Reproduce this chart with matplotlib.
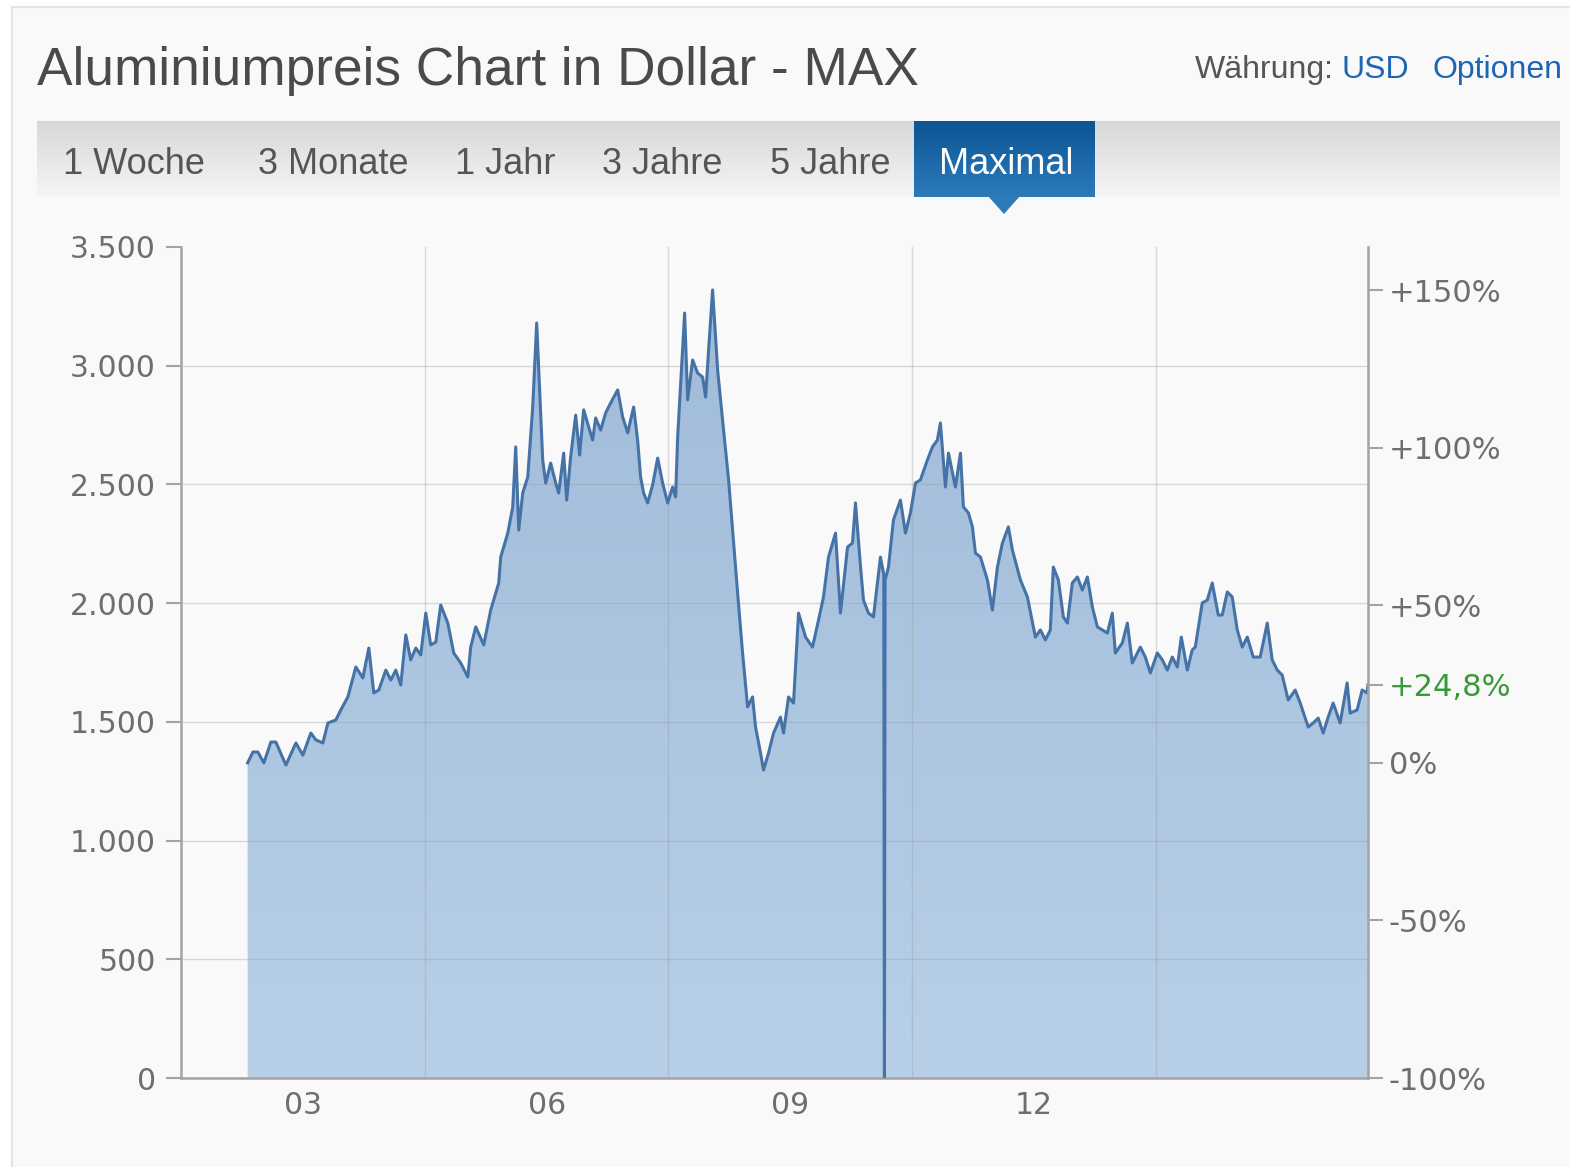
import numpy as np
import matplotlib.pyplot as plt
from matplotlib.colors import LinearSegmentedColormap
from matplotlib.patches import Rectangle, Polygon

# ── Config ─────────────────────────────────────────────────────────────────────
W, H        = 1570, 1167
LINE_COLOR  = '#4572a7'
TEXT_GRAY   = '#6e6e6e'
AXIS_GRAY   = '#a3a3a3'
LINK_BLUE   = '#1d65b5'
UP_GREEN    = '#3a9a3a'

TITLE    = 'Aluminiumpreis Chart in Dollar - MAX'
TABS     = ['1 Woche', '3 Monate', '1 Jahr', '3 Jahre', '5 Jahre', 'Maximal']
ACTIVE   = 'Maximal'

# ── Data (USD per tonne, decimal years) ────────────────────────────────────────
YEARS = [
    2002.820, 2002.885, 2002.946, 2003.020, 2003.106, 2003.168, 2003.291, 2003.414,
    2003.500, 2003.598, 2003.660, 2003.746, 2003.808, 2003.906, 2003.967, 2004.054,
    2004.152, 2004.238, 2004.312, 2004.373, 2004.435, 2004.521, 2004.582, 2004.644,
    2004.705, 2004.767, 2004.828, 2004.890, 2004.951, 2005.013, 2005.074, 2005.136,
    2005.197, 2005.284, 2005.357, 2005.443, 2005.530, 2005.566, 2005.628, 2005.726,
    2005.812, 2005.911, 2005.935, 2006.022, 2006.083, 2006.120, 2006.157, 2006.206,
    2006.268, 2006.329, 2006.378, 2006.452, 2006.489, 2006.550, 2006.612, 2006.649,
    2006.710, 2006.747, 2006.796, 2006.858, 2006.907, 2006.956, 2007.018, 2007.067,
    2007.104, 2007.165, 2007.227, 2007.288, 2007.375, 2007.436, 2007.498, 2007.571,
    2007.620, 2007.657, 2007.694, 2007.744, 2007.805, 2007.867, 2007.928, 2007.990,
    2008.051, 2008.088, 2008.113, 2008.150, 2008.199, 2008.236, 2008.297, 2008.359,
    2008.420, 2008.457, 2008.494, 2008.543, 2008.605, 2008.678, 2008.740, 2008.789,
    2008.851, 2008.912, 2008.974, 2009.035, 2009.072, 2009.133, 2009.170, 2009.232,
    2009.293, 2009.379, 2009.416, 2009.478, 2009.539, 2009.601, 2009.687, 2009.773,
    2009.847, 2009.908, 2009.970, 2010.056, 2010.117, 2010.204, 2010.265, 2010.302,
    2010.364, 2010.400, 2010.462, 2010.523, 2010.609, 2010.650, 2010.658, 2010.666,
    2010.708, 2010.769, 2010.855, 2010.917, 2010.978, 2011.040, 2011.101, 2011.187,
    2011.249, 2011.310, 2011.347, 2011.409, 2011.446, 2011.532, 2011.594, 2011.630,
    2011.692, 2011.741, 2011.778, 2011.840, 2011.926, 2011.987, 2012.049, 2012.110,
    2012.184, 2012.233, 2012.332, 2012.418, 2012.516, 2012.578, 2012.639, 2012.700,
    2012.737, 2012.799, 2012.860, 2012.910, 2012.971, 2013.033, 2013.094, 2013.156,
    2013.217, 2013.279, 2013.340, 2013.402, 2013.463, 2013.500, 2013.586, 2013.648,
    2013.709, 2013.808, 2013.869, 2013.931, 2014.017, 2014.078, 2014.140, 2014.201,
    2014.263, 2014.312, 2014.386, 2014.447, 2014.484, 2014.570, 2014.632, 2014.693,
    2014.767, 2014.816, 2014.878, 2014.939, 2015.001, 2015.062, 2015.124, 2015.197,
    2015.283, 2015.370, 2015.431, 2015.493, 2015.554, 2015.628, 2015.714, 2015.776,
    2015.874, 2015.935, 2015.997, 2016.058, 2016.120, 2016.181, 2016.267, 2016.353,
    2016.390, 2016.476, 2016.538, 2016.599, 2016.610,
]
PRICES = [
    1327, 1373, 1373, 1327, 1415, 1415, 1318, 1411,
    1360, 1453, 1424, 1411, 1495, 1508, 1550, 1605,
    1731, 1685, 1811, 1622, 1634, 1718, 1676, 1718,
    1655, 1866, 1761, 1811, 1782, 1958, 1824, 1836,
    1992, 1916, 1790, 1748, 1689, 1815, 1900, 1824,
    1971, 2085, 2194, 2295, 2405, 2658, 2308, 2464,
    2531, 2826, 3180, 2603, 2506, 2590, 2506, 2464,
    2632, 2434, 2616, 2792, 2624, 2814, 2742, 2687,
    2780, 2729, 2801, 2843, 2898, 2784, 2717, 2826,
    2687, 2531, 2464, 2422, 2498, 2611, 2506, 2422,
    2489, 2447, 2700, 2927, 3222, 2856, 3024, 2969,
    2952, 2868, 3066, 3319, 2982, 2729, 2519, 2308,
    2043, 1790, 1563, 1605, 1478, 1369, 1297, 1369,
    1453, 1520, 1453, 1605, 1579, 1958, 1857, 1815,
    1929, 2026, 2194, 2295, 1958, 2236, 2253, 2422,
    2152, 2013, 1958, 1942, 2194, 2120,    0, 2097,
    2152, 2350, 2434, 2295, 2380, 2506, 2519, 2603,
    2658, 2687, 2759, 2489, 2632, 2489, 2632, 2405,
    2380, 2321, 2211, 2194, 2097, 1971, 2152, 2253,
    2321, 2224, 2097, 2026, 1857, 1887, 1845, 1887,
    2152, 2097, 1942, 1916, 2085, 2110, 2055, 2110,
    1984, 1900, 1887, 1874, 1958, 1790, 1832, 1916,
    1748, 1815, 1773, 1706, 1790, 1761, 1718, 1773,
    1731, 1857, 1718, 1803, 1815, 2001, 2013, 2085,
    1950, 1950, 2047, 2026, 1887, 1815, 1857, 1773,
    1773, 1916, 1761, 1718, 1697, 1592, 1634, 1579,
    1478, 1495, 1516, 1453, 1520, 1579, 1495, 1664,
    1537, 1550, 1634, 1622, 1656,
]

Y_TICKS        = [0, 500, 1000, 1500, 2000, 2500, 3000, 3500]
PCT_TICKS      = [-100, -50, 0, 50, 100, 150]
YEAR_GRID      = [2005, 2008, 2011, 2014]
YEAR_LABEL_POS = [2003.5, 2006.5, 2009.5, 2012.5]
YEAR_LABELS    = ['03', '06', '09', '12']
X_RANGE        = (2002.0, 2016.61)


# pixel helpers (origin top-left)
def fx(px):
    return px / W


def fy(py):
    return 1 - py / H


def thousands(v):
    return f'{v:,.0f}'.replace(',', '.')


def pct_label(v):
    if abs(v - round(v)) > 1e-6:
        return f'{v:+.1f}%'.replace('.', ',')
    if v > 0:
        return f'+{v:.0f}%'
    return f'{v:.0f}%'


def main():
    plt.rcParams['font.family'] = 'DejaVu Sans'
    fig = plt.figure(figsize=(W / 100, H / 100), dpi=100, facecolor='#f9f9f9')

    # page frame
    fig.patches.append(Rectangle((0, 0), fx(12), 1, transform=fig.transFigure,
                                 facecolor='white', edgecolor='none', zorder=0))
    fig.patches.append(Rectangle((0, fy(7)), 1, 7 / H, transform=fig.transFigure,
                                 facecolor='white', edgecolor='none', zorder=0))
    fig.lines.append(plt.Line2D([fx(12), fx(12)], [0, fy(7)], transform=fig.transFigure,
                                color='#e4e4e4', lw=1.5))
    fig.lines.append(plt.Line2D([fx(12), 1], [fy(7), fy(7)], transform=fig.transFigure,
                                color='#e4e4e4', lw=1.5))

    # ── Header ────────────────────────────────────────────────────────────────
    hdr = dict(family='Liberation Sans', va='baseline')
    fig.text(fx(37), fy(85), TITLE, fontsize=38.3, color='#4a4a4a', **hdr)
    fig.text(fx(1195), fy(78), 'Währung:', fontsize=23, color='#555555', **hdr)
    fig.text(fx(1341), fy(78), 'USD', fontsize=23, color=LINK_BLUE, **hdr)
    fig.text(fx(1433), fy(78), 'Optionen', fontsize=23, color=LINK_BLUE, **hdr)

    # tab bar with grey gradient
    tab_ax = fig.add_axes([fx(37), fy(197), (1560 - 37) / W, (197 - 121) / H])
    tab_ax.imshow(np.linspace(0, 1, 64).reshape(-1, 1), aspect='auto', origin='upper',
                  extent=[37, 1560, 197, 121],
                  cmap=LinearSegmentedColormap.from_list('bar', ['#d8d8d8', '#f5f5f5']))
    tab_ax.imshow(np.linspace(0, 1, 64).reshape(-1, 1), aspect='auto', origin='upper',
                  extent=[914, 1095, 197, 121],
                  cmap=LinearSegmentedColormap.from_list('act', ['#0d5595', '#2c7aba']))
    tab_ax.set_xlim(37, 1560)
    tab_ax.set_ylim(197, 121)
    tab_ax.axis('off')
    fig.patches.append(Polygon([(fx(988), fy(196)), (fx(1020), fy(196)), (fx(1004), fy(214))],
                               closed=True, transform=fig.transFigure,
                               facecolor='#2c7aba', edgecolor='none'))

    tab_left = [63, 258, 455, 602, 770, 939]
    for label, x in zip(TABS, tab_left):
        fig.text(fx(x), fy(174), label, fontsize=26,
                 color='white' if label == ACTIVE else '#555555', **hdr)

    # ── Chart ─────────────────────────────────────────────────────────────────
    years  = np.array(YEARS)
    prices = np.array(PRICES, dtype=float)
    base   = prices[0]
    change = round((prices[-1] / base - 1) * 100, 1)

    ax = fig.add_axes([fx(181), fy(1078), (1368 - 181) / W, (1078 - 247) / H])
    ax.patch.set_visible(False)

    # area under the curve, filled with a soft vertical gradient
    area = ax.fill_between(years, prices, 0, facecolor='none', edgecolor='none')
    grad = ax.imshow(np.linspace(0, 1, 256).reshape(-1, 1), origin='lower', aspect='auto',
                     extent=[X_RANGE[0], X_RANGE[1], 0, 3500], zorder=1,
                     cmap=LinearSegmentedColormap.from_list('fill', ['#b8d0e7', '#9fbad9']))
    grad.set_clip_path(area.get_paths()[0], transform=ax.transData)

    for v in Y_TICKS[1:-1]:
        ax.axhline(v, color='#9a9a9a', alpha=0.35, lw=1, zorder=2)
    for yr in YEAR_GRID:
        ax.axvline(yr, color='#9a9a9a', alpha=0.35, lw=1, zorder=2)

    ax.plot(years, prices, color=LINE_COLOR, lw=2.2, zorder=3, solid_joinstyle='round')

    ax.set_xlim(*X_RANGE)
    ax.set_ylim(0, 3500)

    ax.set_yticks(Y_TICKS)
    ax.set_yticklabels([thousands(v) for v in Y_TICKS])
    ax.tick_params(axis='y', length=11, width=1.5, color=AXIS_GRAY,
                   labelsize=21.5, labelcolor=TEXT_GRAY, pad=7)

    ax.set_xticks(YEAR_GRID)
    ax.set_xticklabels([''] * len(YEAR_GRID))
    ax.set_xticks(YEAR_LABEL_POS, minor=True)
    ax.set_xticklabels(YEAR_LABELS, minor=True)
    ax.tick_params(axis='x', which='both', length=0, labelsize=21.5,
                   labelcolor=TEXT_GRAY, pad=9)

    for side in ['top', 'right']:
        ax.spines[side].set_visible(False)
    for side in ['left', 'bottom']:
        ax.spines[side].set_color(AXIS_GRAY)
        ax.spines[side].set_linewidth(1.8)

    # percent scale relative to the first price
    ax2 = ax.twinx()
    ax2.set_ylim(-100, 3500 / base * 100 - 100)
    pct_ticks = PCT_TICKS + [change]
    ax2.set_yticks(pct_ticks)
    ax2.set_yticklabels([pct_label(v) for v in pct_ticks])
    ax2.tick_params(axis='y', length=11, width=1.5, color=AXIS_GRAY,
                    labelsize=22, labelcolor=TEXT_GRAY, pad=4)
    ax2.get_yticklabels()[-1].set_color(UP_GREEN)
    for side in ['top', 'left', 'bottom']:
        ax2.spines[side].set_visible(False)
    ax2.spines['right'].set_color(AXIS_GRAY)
    ax2.spines['right'].set_linewidth(1.8)

    fig.savefig('out.png', dpi=100, facecolor=fig.get_facecolor())


if __name__ == '__main__':
    main()
